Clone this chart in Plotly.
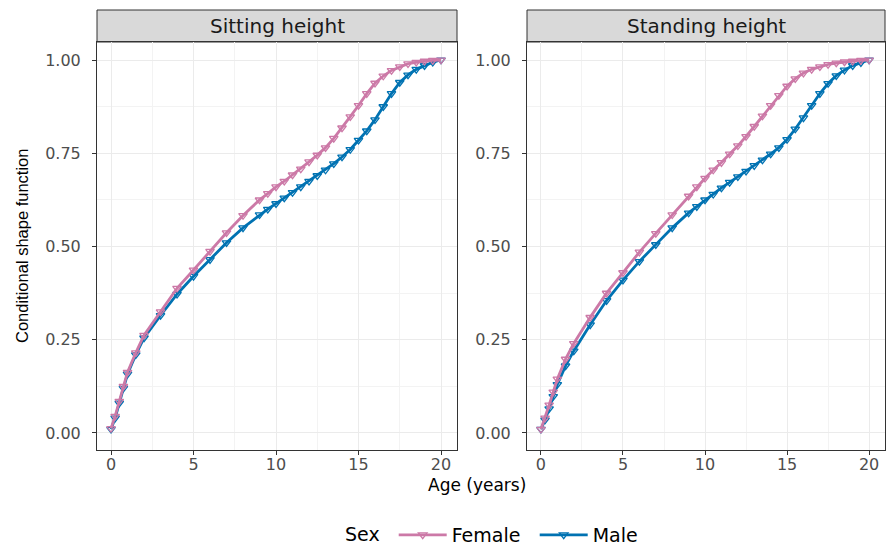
import plotly.graph_objects as go

ages = [0, 0.25, 0.5, 0.75, 1, 1.5, 2, 3, 4, 5, 6, 7, 8,
        9, 9.5, 10, 10.5, 11, 11.5, 12, 12.5, 13, 13.5, 14, 14.5, 15,
        15.5, 16, 16.5, 17, 17.5, 18, 18.5, 19, 19.5, 20]

sitting_female = [0.012, 0.045, 0.085, 0.125, 0.163, 0.215, 0.262, 0.325, 0.388, 0.437, 0.487, 0.537, 0.583,
                  0.625, 0.642, 0.660, 0.675, 0.692, 0.708, 0.727, 0.745, 0.765, 0.790, 0.818, 0.848, 0.878,
                  0.910, 0.938, 0.957, 0.972, 0.982, 0.990, 0.994, 0.997, 0.999, 1.000]
sitting_male = [0.010, 0.040, 0.080, 0.120, 0.158, 0.210, 0.255, 0.315, 0.372, 0.420, 0.465, 0.510, 0.550,
                0.585, 0.600, 0.615, 0.630, 0.645, 0.660, 0.675, 0.690, 0.705, 0.722, 0.740, 0.760, 0.785,
                0.810, 0.840, 0.875, 0.910, 0.940, 0.960, 0.975, 0.985, 0.994, 1.000]
standing_female = [0.010, 0.040, 0.075, 0.110, 0.145, 0.198, 0.240, 0.310, 0.375, 0.430, 0.485, 0.535, 0.585,
                   0.635, 0.660, 0.683, 0.705, 0.725, 0.748, 0.770, 0.795, 0.822, 0.850, 0.878, 0.905, 0.930,
                   0.950, 0.965, 0.975, 0.982, 0.988, 0.992, 0.995, 0.997, 0.999, 1.000]
standing_male = [0.010, 0.035, 0.065, 0.098, 0.130, 0.180, 0.220, 0.290, 0.355, 0.410, 0.460, 0.505, 0.550,
                 0.590, 0.607, 0.625, 0.640, 0.657, 0.672, 0.687, 0.702, 0.717, 0.732, 0.748, 0.765, 0.787,
                 0.815, 0.845, 0.878, 0.910, 0.937, 0.958, 0.973, 0.985, 0.993, 1.000]

panels = ["Sitting height", "Standing height"]
sexes = ["Female", "Male"]
colors = {"Female": "#CC79A7", "Male": "#0072B2"}
x_ticks = [0, 5, 10, 15, 20]
y_ticks = [0.0, 0.25, 0.5, 0.75, 1.0]
y_tick_labels = ["0.00", "0.25", "0.50", "0.75", "1.00"]

data = {
    ("Sitting height", "Female"): sitting_female,
    ("Sitting height", "Male"): sitting_male,
    ("Standing height", "Female"): standing_female,
    ("Standing height", "Male"): standing_male,
}

WIDE = "DejaVu Sans, Liberation Sans, Arial"
W, H = 886, 545
ML, MR, MT, MB = 97, 1, 42, 95
pw = W - ML - MR
ph = H - MT - MB
left_dom = [0, 360 / pw]
right_dom = [(527 - ML) / pw, 1]

fig = go.Figure()
for pi, panel in enumerate(panels):
    xa = "x" if pi == 0 else "x2"
    ya = "y" if pi == 0 else "y2"
    for sex in ["Male", "Female"]:
        fig.add_trace(go.Scatter(
            x=ages, y=data[(panel, sex)], mode="lines+markers",
            name=sex, legendgroup=sex, showlegend=(pi == 0),
            legendrank=1 if sex == "Female" else 2,
            line=dict(color=colors[sex], width=2.8),
            marker=dict(symbol="triangle-down-open", size=7.5, color=colors[sex],
                        line=dict(width=1.3, color=colors[sex])),
            xaxis=xa, yaxis=ya,
        ))

axis_common = dict(
    showline=True, linecolor="#333333", linewidth=1, mirror=True,
    ticks="outside", ticklen=4, tickcolor="#333333", tickwidth=1,
    showgrid=True, gridcolor="#EBEBEB", gridwidth=1.1, zeroline=False,
    tickfont=dict(family=WIDE, size=16, color="#4D4D4D"),
)
xr = [-0.85, 20.97]
yr = [-0.0456, 1.0483]
xminor = dict(tickvals=[2.5, 7.5, 12.5, 17.5], showgrid=True, gridcolor="#F3F3F3", gridwidth=0.6, ticks="")
yminor = dict(tickvals=[0.125, 0.375, 0.625, 0.875], showgrid=True, gridcolor="#F3F3F3", gridwidth=0.6, ticks="")
fig.update_layout(
    xaxis=dict(domain=left_dom, range=xr, tickvals=x_ticks, minor=xminor, anchor="y",
               ticklabelstandoff=-4, **axis_common),
    xaxis2=dict(domain=right_dom, range=xr, tickvals=x_ticks, minor=xminor, anchor="y2",
                ticklabelstandoff=-4, **axis_common),
    yaxis=dict(domain=[0, 1], range=yr, tickvals=y_ticks, ticktext=y_tick_labels, minor=yminor,
               anchor="x", ticklabelstandoff=8, **axis_common),
    yaxis2=dict(domain=[0, 1], range=yr, tickvals=y_ticks, ticktext=y_tick_labels, minor=yminor,
                anchor="x2", ticklabelstandoff=8, **axis_common),
)

strip_h = 32 / ph
shapes = []
annotations = []
for dom, panel in [(left_dom, panels[0]), (right_dom, panels[1])]:
    shapes.append(dict(type="rect", xref="paper", yref="paper",
                       x0=dom[0], x1=dom[1], y0=1, y1=1 + strip_h,
                       fillcolor="#D9D9D9", line=dict(color="#333333", width=1), layer="below"))
    annotations.append(dict(text=panel, xref="paper", yref="paper",
                            x=(dom[0] + dom[1]) / 2, y=1 + strip_h / 2, showarrow=False,
                            xanchor="center", yanchor="middle",
                            font=dict(family=WIDE, size=20, color="#1A1A1A")))

annotations.append(dict(text="Age (years)", xref="paper", yref="paper",
                        x=(477 - ML) / pw, y=-(485 - (MT + ph)) / ph, showarrow=False,
                        xanchor="center", yanchor="middle",
                        font=dict(family=WIDE, size=17, color="#000000")))
annotations.append(dict(text="Conditional shape function", xref="paper", yref="paper",
                        x=-(ML - 22) / pw, y=0.5, showarrow=False, textangle=-90,
                        xanchor="center", yanchor="middle",
                        font=dict(family="Liberation Sans, Arial", size=16.5, color="#000000")))

fig.update_layout(
    width=W, height=H,
    margin=dict(l=ML, r=MR, t=MT, b=MB, autoexpand=False),
    paper_bgcolor="white", plot_bgcolor="white",
    shapes=shapes, annotations=annotations,
    showlegend=True,
    legend=dict(orientation="h", x=(343 - ML) / pw, xanchor="left",
                y=-(535 - (MT + ph)) / ph, yanchor="middle",
                title=dict(text="Sex ", font=dict(family=WIDE, size=19, color="#000000")),
                font=dict(family=WIDE, size=19, color="#000000"),
                itemwidth=48, entrywidth=78, entrywidthmode="pixels"),
)

fig.write_html("out.html")
